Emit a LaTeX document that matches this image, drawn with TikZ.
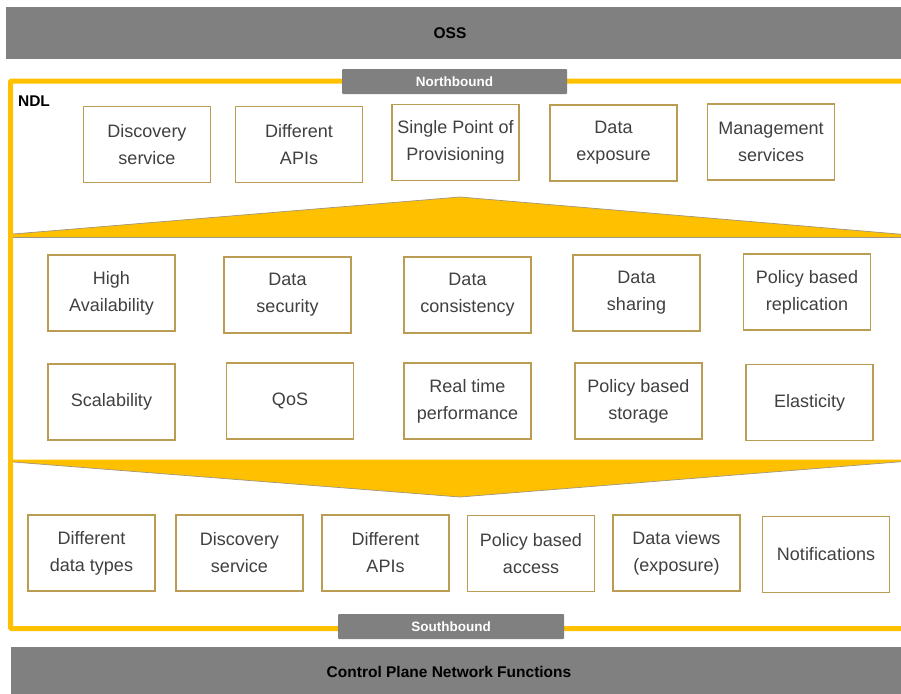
\documentclass[tikz,border=0pt]{standalone}
\usepackage{fontspec}
\setmainfont{Liberation Sans}
\definecolor{barGray}{RGB}{128,128,128}
\definecolor{ndlYellow}{RGB}{255,192,0}
\definecolor{boxLine}{RGB}{186,156,82}
\definecolor{boxText}{RGB}{64,64,64}
\definecolor{edgeGray}{RGB}{160,150,125}
\begin{document}
\begin{tikzpicture}[x=1pt,y=-1pt,
  feature/.style={draw=boxLine,line width=1.7pt,fill=white,text=boxText,align=center,
    minimum width=127pt,minimum height=76pt,inner sep=0pt,
    font=\fontsize{18}{27}\selectfont},
  tab/.style={fill=barGray,text=white,inner sep=0pt,rounded corners=1pt,
    font=\fontsize{13.5}{16}\selectfont\bfseries},
  bar/.style={fill=barGray},
  barlabel/.style={text=black,font=\fontsize{15.5}{18}\selectfont\bfseries},
  band/.style={fill=ndlYellow}]
\useasboundingbox (0,0) rectangle (901,693);
\clip (0,0) rectangle (901,693);
% OSS on top
\fill[bar] (6,7) rectangle (905,59);
\node[barlabel] (oss) at (450,33) {OSS};
% NDL frame
\draw[ndlYellow,line width=5pt,rounded corners=1pt] (910,81) -- (10.5,81) -- (10.5,628.5) -- (910,628.5);
\node[tab,minimum width=225pt,minimum height=25pt] (north) at (454.5,81.5) {Northbound};
\node[tab,minimum width=226pt,minimum height=25pt] (south) at (451,626.5) {Southbound};
\node[text=black,font=\fontsize{15.5}{18}\selectfont\bfseries] (ndl) at (34,101) {NDL};
% northbound features
\node[feature] (disc) at (147,144.5) {Discovery\\service};
\node[feature] (apis) at (299,144.5) {Different\\APIs};
\node[feature] (spp) at (455.5,142.5) {Single Point of\\Provisioning};
\node[feature] (expo) at (613.5,143) {Data\\exposure};
\node[feature] (mgmt) at (771,142) {Management\\services};
% upper band
\fill[band] (13,234) -- (460,197) -- (910,235) -- (910,237.5) -- (13,237.5) -- cycle;
\draw[edgeGray,line width=0.7pt] (13,234) -- (460,197) -- (910,235);
\draw[edgeGray,line width=1pt] (13,237) -- (910,237);
% core features
\node[feature] (ha) at (111.5,293) {High\\Availability};
\node[feature] (sec) at (287.5,295) {Data\\security};
\node[feature] (cons) at (467.5,295) {Data\\consistency};
\node[feature] (shar) at (636.5,293) {Data\\sharing};
\node[feature] (repl) at (807,292) {Policy based\\replication};
\node[feature] (scal) at (111.5,402) {Scalability};
\node[feature] (qos) at (290,401) {QoS};
\node[feature] (rtp) at (467.5,401) {Real time\\performance};
\node[feature] (stor) at (638.5,401) {Policy based\\storage};
\node[feature] (elas) at (809.5,402.5) {Elasticity};
% lower band
\fill[band] (13,459.5) -- (910,459.5) -- (910,461) -- (460,497) -- (13,462) -- cycle;
\draw[edgeGray,line width=0.7pt] (13,462) -- (460,497) -- (910,461);
% southbound features
\node[feature] (types) at (91.5,553) {Different\\data types};
\node[feature] (disc2) at (239.5,553) {Discovery\\service};
\node[feature] (apis2) at (385.5,553) {Different\\APIs};
\node[feature] (acc) at (531,553.5) {Policy based\\access};
\node[feature] (views) at (676.5,553) {Data views\\(exposure)};
\node[feature] (notif) at (826,554.5) {Notifications};
% control plane at the bottom
\fill[bar] (11,647) rectangle (905,700);
\node[barlabel] (cpnf) at (449,672) {Control Plane Network Functions};
\end{tikzpicture}
\end{document}
